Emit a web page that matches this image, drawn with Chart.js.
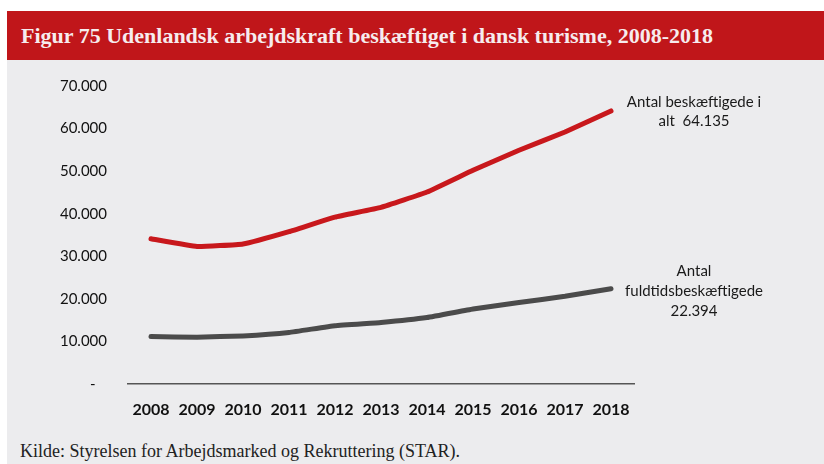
<!DOCTYPE html>
<html>
<head>
<meta charset="utf-8">
<script src="https://cdn.jsdelivr.net/npm/chart.js@4"></script>
<style>
    body { margin: 0; width: 824px; height: 464px; background: #ffffff; position: relative; overflow: hidden; }
    #titleBar {
        position: absolute; left: 7px; top: 11px; width: 817px; height: 49px;
        background: #c0161a; color: #f6ecee;
        font-family: "Liberation Serif", serif; font-weight: bold; font-size: 22px;
        line-height: 49px; padding-left: 14px; box-sizing: border-box; white-space: nowrap;
    }
    #panel { position: absolute; left: 7px; top: 60px; width: 817px; height: 404px; background: #ececee; }
    #source {
        position: absolute; left: 20px; top: 441px;
        font-family: "Liberation Serif", serif; font-size: 18px; color: #222;
        white-space: nowrap;
    }
    #chart { position: absolute; left: 0; top: 0; }
</style>
</head>
<body>
<div id="titleBar">Figur 75 Udenlandsk arbejdskraft beskæftiget i dansk turisme, 2008-2018</div>
<div id="panel"></div>
<div id="source">Kilde: Styrelsen for Arbejdsmarked og Rekruttering (STAR).</div>
<canvas id="chart" width="824" height="464"></canvas>

<script>
// data
const years = ["2008", "2009", "2010", "2011", "2012", "2013", "2014", "2015", "2016", "2017", "2018"];
const totalEmployed = [34100, 32300, 32900, 35800, 39200, 41500, 45100, 50200, 54900, 59200, 64135];
const fullTimeEmployed = [11150, 11000, 11300, 12100, 13700, 14450, 15600, 17600, 19150, 20600, 22394];
const yTickLabels = ["-   ", "10.000", "20.000", "30.000", "40.000", "50.000", "60.000", "70.000"];
const totalLabel = ["Antal beskæftigede i", "alt  64.135"];
const fullTimeLabel = ["Antal", "fuldtidsbeskæftigede", "22.394"];

// text next to the last point of each line
const endLabels = {
    id: "endLabels",
    afterDatasetsDraw(chart) {
        const ctx = chart.ctx;
        const sets = [
            { lines: totalLabel, offsets: [-9, 10] },
            { lines: fullTimeLabel, offsets: [-18, 2, 22] }
        ];
        ctx.save();
        ctx.font = "15px Lato";
        ctx.fillStyle = "#1a1a1a";
        ctx.textAlign = "center";
        ctx.textBaseline = "middle";
        sets.forEach((s, i) => {
            const meta = chart.getDatasetMeta(i);
            const last = meta.data[meta.data.length - 1];
            s.lines.forEach((txt, j) => {
                ctx.fillText(txt, last.x + 83, last.y + s.offsets[j]);
            });
        });
        ctx.restore();
    }
};

const ctx = document.getElementById("chart").getContext("2d");

new Chart(ctx, {
    type: "line",
    data: {
        labels: years,
        datasets: [{
            label: "Antal beskæftigede i alt",
            data: totalEmployed,
            borderColor: "#c8181c",
            borderWidth: 5,
            borderCapStyle: "round",
            borderJoinStyle: "round",
            pointRadius: 0,
            tension: 0.1
        }, {
            label: "Antal fuldtidsbeskæftigede",
            data: fullTimeEmployed,
            borderColor: "#4b4b4b",
            borderWidth: 5,
            borderCapStyle: "round",
            borderJoinStyle: "round",
            pointRadius: 0,
            tension: 0.1
        }]
    },
    options: {
        responsive: false,
        animation: false,
        layout: { padding: { left: 0, right: 190, top: 86, bottom: 0 } },
        plugins: {
            legend: { display: false },
            tooltip: { enabled: false }
        },
        scales: {
            x: {
                offset: true,
                grid: { display: false, drawTicks: false },
                border: { display: true, color: "#555555", width: 1.5 },
                ticks: {
                    padding: 16,
                    color: "#111111",
                    font: { family: "Lato", size: 16, weight: "bold" },
                    maxRotation: 0,
                    autoSkip: false
                },
                afterFit(scale) { scale.height = 80; }
            },
            y: {
                min: 0,
                max: 70000,
                grid: { display: false, drawTicks: false },
                border: { display: false },
                ticks: {
                    stepSize: 10000,
                    padding: 21,
                    color: "#111111",
                    font: { family: "Lato", size: 15 },
                    callback: (v, i) => yTickLabels[i]
                },
                afterFit(scale) { scale.width = 128; }
            }
        }
    },
    plugins: [endLabels]
});
</script>
</body>
</html>
